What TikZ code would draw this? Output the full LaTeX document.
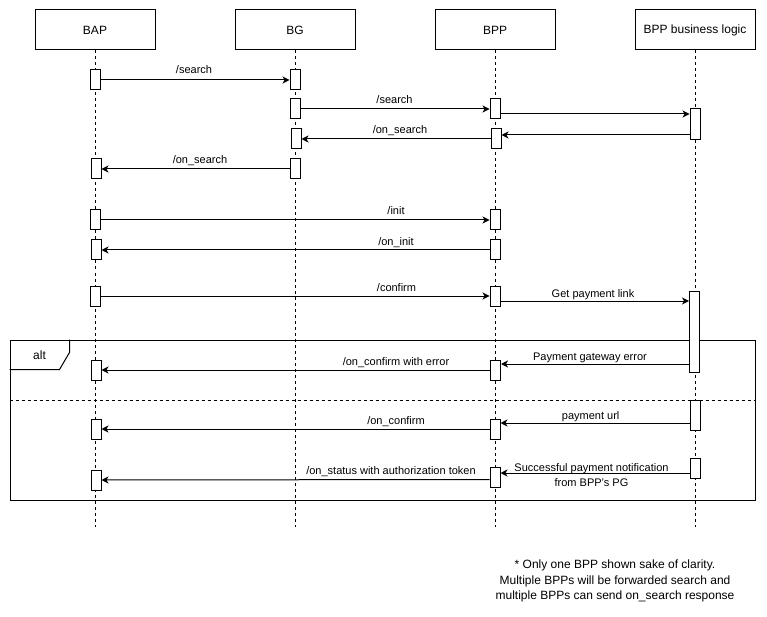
\documentclass[tikz,border=0pt]{standalone}
\usepackage{fontspec}
\setmainfont{Liberation Sans}
\usetikzlibrary{arrows.meta,calc}
\begin{document}
\begin{tikzpicture}[x=1pt,y=-1pt,
  every node/.style={font=\fontsize{11}{13.2}\selectfont, inner sep=0pt},
  head/.style={draw, fill=white, minimum width=120pt, minimum height=40pt, font=\fontsize{12}{14}\selectfont, line width=1pt},
  act/.style={draw, fill=white, minimum width=10pt, minimum height=20pt, line width=1pt},
  life/.style={dash pattern=on 3pt off 3pt, line width=1pt},
  msg/.style={-{Stealth[length=7pt,width=7pt,inset=2pt]}, line width=1pt},
  lbl/.style={anchor=base},
]
\useasboundingbox (0,0) rectangle (767,617);
% headers
\node[head] (bap) at (95,30) {BAP};
\node[head] (bg) at (295,30) {BG};
\node[head] (bpp) at (495,30) {BPP};
\node[head] (bbl) at (695,30) {BPP business logic};
% lifeline ends
\coordinate (bapend) at (95,527);
\coordinate (bgend) at (295,527);
\coordinate (bppend) at (495,527);
\coordinate (bblend) at (695,527);
\draw[life] (bap.south) -- (bapend);
\draw[life] (bg.south) -- (bgend);
\draw[life] (bpp.south) -- (bppend);
\draw[life] (bbl.south) -- (bblend);
% alt frame
\node[draw, line width=1pt, minimum width=745pt, minimum height=160pt] (altframe) at (382.5,420) {};
\draw[line width=1pt] (altframe.north west) ++(0,30) -- ++(50,0) -- ++(10,-17) -- ++(0,-13);
\node[anchor=base, font=\fontsize{12}{14}\selectfont] (altlbl) at (39.5,359) {alt};
\draw[dash pattern=on 3pt off 3pt, line width=1pt] ($(altframe.west)+(0,-20)$) -- ($(altframe.east)+(0,-20)$);
% activations
\node[act] (a1) at (95,80) {};
\node[act] (g1) at (295,80) {};
\node[act] (g2) at (295,109) {};
\node[act] (p1) at (495,109) {};
\node[act, minimum height=31pt] (l1) at (695,124.5) {};
\node[act] (p2) at (496,139) {};
\node[act] (g3) at (296,139) {};
\node[act] (g4) at (295,169) {};
\node[act] (a2) at (96,169) {};
\node[act] (a3) at (95,220) {};
\node[act] (p3) at (495,220) {};
\node[act] (a4) at (96,250) {};
\node[act] (p4) at (495,250) {};
\node[act] (a5) at (95,296) {};
\node[act] (p5) at (495,296) {};
\node[act, minimum height=81pt] (l2) at (694.5,331.5) {};
\node[act] (p6) at (495.5,370) {};
\node[act] (a6) at (96,370) {};
\node[act, minimum height=30pt] (l3) at (695,415) {};
\node[act] (p7) at (495,429) {};
\node[act] (a7) at (96,429) {};
\node[act] (l4) at (695,468) {};
\node[act] (p8) at (495,477.5) {};
\node[act] (a8) at (96,480) {};
% messages
\draw[msg] (a1.east) -- (g1.west);
\draw[msg] (g2.east) -- (p1.west);
\draw[msg] ($(p1.east)+(0,5)$) -- ($(l1.west |- p1.east)+(0,5)$);
\draw[msg] ($(l1.west |- p2.east)+(0,-4)$) -- ($(p2.east)+(0,-4)$);
\draw[msg] (p2.west) -- (g3.east);
\draw[msg] (g4.west) -- (a2.east);
\draw[msg] (a3.east) -- (p3.west);
\draw[msg] (p4.west) -- (a4.east);
\draw[msg] (a5.east) -- (p5.west);
\draw[msg] ($(p5.east)+(0,5)$) -- ($(l2.west |- p5.east)+(0,5)$);
\draw[msg] ($(l2.west |- p6.east)+(0,-6)$) -- ($(p6.east)+(0,-6)$);
\draw[msg] (p6.west) -- (a6.east);
\draw[msg] ($(l3.west |- p7.east)+(0,-6)$) -- ($(p7.east)+(0,-6)$);
\draw[msg] (p7.west) -- (a7.east);
\draw[msg] ($(l4.west |- p8.east)+(0,-4.5)$) -- ($(p8.east)+(0,-4.5)$);
\draw[msg] ($(p8.west)+(0,2)$) -- (a8.east);
% labels
\node[lbl] (t1) at (194,74) {/search};
\node[lbl] (t2) at (394.5,103.5) {/search};
\node[lbl] (t3) at (400,133.5) {/on\_search};
\node[lbl] (t4) at (200,164) {/on\_search};
\node[lbl] (t5) at (396,215) {/init};
\node[lbl] (t6) at (396,245.5) {/on\_init};
\node[lbl] (t7) at (396.5,291.5) {/confirm};
\node[lbl] (t8) at (593,297) {Get payment link};
\node[lbl] (t9) at (396,365.5) {/on\_confirm with error};
\node[lbl] (t10) at (590,360.5) {Payment gateway error};
\node[lbl] (t11) at (396,424) {/on\_confirm};
\node[lbl] (t12) at (590.7,419.5) {payment url};
\node[lbl] (t13) at (391,474) {/on\_status with authorization token};
\node[align=center, font=\fontsize{11}{14.4}\selectfont] (t14) at (591.5,475) {Successful payment notification\\from BPP's PG};
% note
\node[align=center, font=\fontsize{12}{15.8}\selectfont] (note) at (615,581) {* Only one BPP shown sake of clarity.\\Multiple BPPs will be forwarded search and\\multiple BPPs can send on\_search response};
\end{tikzpicture}
\end{document}
